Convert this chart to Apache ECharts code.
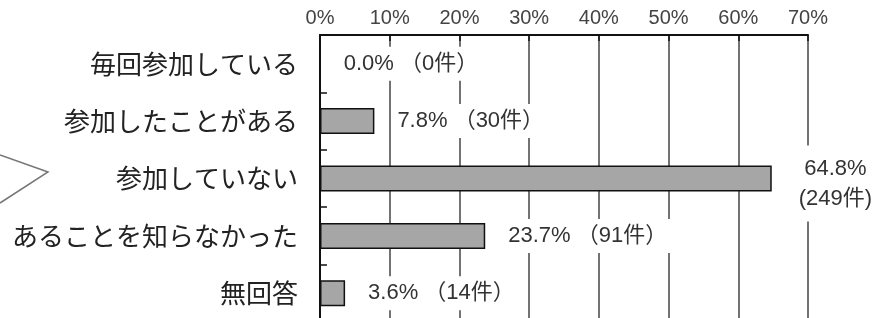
<!DOCTYPE html>
<html>
<head>
<meta charset="utf-8">
<script src="https://cdn.jsdelivr.net/npm/echarts@6/dist/echarts.min.js"></script>
<style>
  html, body { margin: 0; padding: 0; background: #fff; }
  #main { width: 891px; height: 318px; }
</style>
</head>
<body>
<div id="main"></div>
<script>
// 回答項目
const categories = ['毎回参加している', '参加したことがある', '参加していない', 'あることを知らなかった', '無回答']
// 割合（%）
const percents = [0.0, 7.8, 64.8, 23.7, 3.6]
// 件数
const counts = [0, 30, 249, 91, 14]
// 上側の目盛
const axisMin = 0
const axisMax = 70
const axisStep = 10

const FONT = '"Noto Sans CJK JP", "Noto Sans", sans-serif'
// 数字用（細めで縦長）
const NUM_FONT = '"Liberation Sans", "Noto Sans CJK JP", sans-serif'

const myChart = echarts.init(document.getElementById('main'))

// 長いバーだけラベルを2行にして少し下げる
const barData = percents.map((v) => {
  if (v > 50) {
    return { value: v, label: { offset: [4, 5], padding: [8, 5] } }
  }
  return v
})

myChart.setOption({
  backgroundColor: '#fff',
  animation: false,
  textStyle: { fontFamily: FONT },
  grid: {
    left: 320,
    top: 35,
    width: 488,
    height: 287,
    outerBoundsMode: 'none'
  },
  xAxis: {
    type: 'value',
    position: 'top',
    min: axisMin,
    max: axisMax,
    interval: axisStep,
    axisLine: { show: true, lineStyle: { color: '#111', width: 2 } },
    axisTick: { show: true, inside: true, length: 6, lineStyle: { color: '#111', width: 1.5 } },
    axisLabel: {
      formatter: '{value}%',
      color: '#444',
      fontSize: 20,
      margin: 7,
      fontFamily: NUM_FONT
    },
    splitLine: { show: true, lineStyle: { color: '#444', width: 1.5 } }
  },
  yAxis: {
    type: 'category',
    data: categories,
    inverse: true,
    axisLine: { show: true, lineStyle: { color: '#111', width: 2 } },
    axisTick: { show: true, inside: true, length: 7, lineStyle: { color: '#111', width: 1.5 } },
    axisLabel: {
      color: '#222',
      fontSize: 26,
      margin: 22,
      fontFamily: FONT
    },
    splitLine: { show: false }
  },
  // 吹き出しの一部
  graphic: [{
    type: 'polyline',
    shape: { points: [[0, 155], [48, 172], [0, 203]] },
    style: { stroke: '#777', lineWidth: 1.5, fill: null }
  }],
  series: [{
    type: 'bar',
    data: barData,
    barWidth: 26,
    itemStyle: {
      color: '#a6a6a6',
      borderColor: '#111',
      borderWidth: 1.5
    },
    label: {
      show: true,
      position: 'right',
      distance: 18,
      color: '#333',
      fontSize: 22,
      lineHeight: 30,
      fontFamily: NUM_FONT,
      backgroundColor: '#fff',
      padding: [2, 5],
      align: 'left',
      formatter: (p) => {
        const pct = percents[p.dataIndex].toFixed(1) + '%'
        const n = counts[p.dataIndex]
        if (percents[p.dataIndex] > 50) {
          return '{c|' + pct + '}\n{c|(' + n + '件)}'
        }
        return pct + ' （' + n + '件）'
      },
      rich: {
        c: { align: 'center', fontSize: 22, lineHeight: 30, color: '#333', fontFamily: NUM_FONT }
      }
    }
  }]
})
</script>
</body>
</html>
